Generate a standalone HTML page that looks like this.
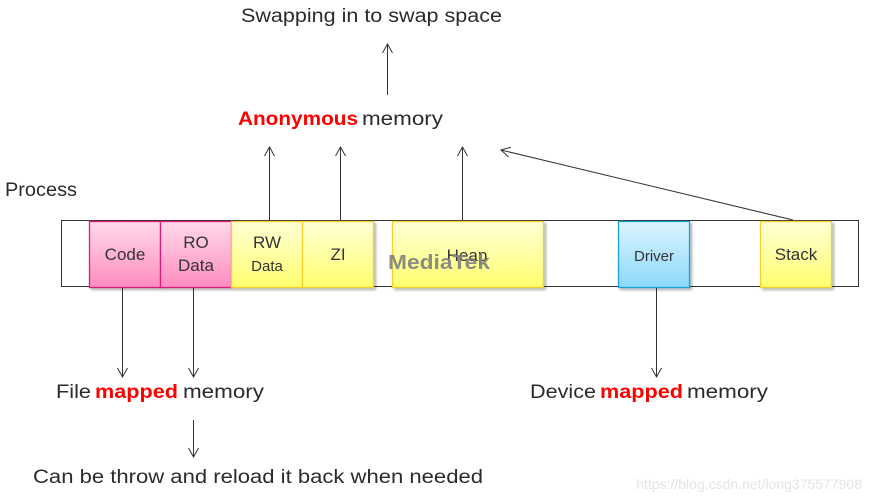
<!DOCTYPE html>
<html><head><style>body{margin:0;background:#fff}svg{display:block}text{font-family:"Liberation Sans",sans-serif}</style></head>
<body>
<svg width="870" height="502" viewBox="0 0 870 502" xmlns="http://www.w3.org/2000/svg">
<defs>
<linearGradient id="pk" x1="0" y1="0" x2="0" y2="1"><stop offset="0" stop-color="#ffd9ea"/><stop offset="1" stop-color="#ff8cc0"/></linearGradient>
<linearGradient id="yl" x1="0" y1="0" x2="0" y2="1"><stop offset="0" stop-color="#ffffd6"/><stop offset="1" stop-color="#ffff70"/></linearGradient>
<linearGradient id="bl" x1="0" y1="0" x2="0" y2="1"><stop offset="0" stop-color="#dcf4ff"/><stop offset="1" stop-color="#8cd8fa"/></linearGradient>
<filter id="sh" x="-10%" y="-10%" width="130%" height="130%"><feDropShadow dx="2" dy="2" stdDeviation="1.2" flood-color="#000" flood-opacity="0.3"/></filter>
<marker id="a" markerWidth="12" markerHeight="12" refX="10" refY="6" orient="auto" markerUnits="userSpaceOnUse"><path d="M1,1 L10,6 L1,11" fill="none" stroke="#333" stroke-width="1"/></marker>
</defs>
<g fill="#2b2b2b" font-size="19">
<text x="241" y="22" textLength="261" lengthAdjust="spacingAndGlyphs">Swapping in to swap space</text>
<text x="238" y="125" textLength="120" lengthAdjust="spacingAndGlyphs" fill="#ff0000" font-weight="bold">Anonymous</text>
<text x="362" y="125" textLength="81" lengthAdjust="spacingAndGlyphs">memory</text>
<text x="5" y="196" textLength="72" lengthAdjust="spacingAndGlyphs">Process</text>
<text x="56" y="398" textLength="35" lengthAdjust="spacingAndGlyphs">File</text>
<text x="95" y="398" textLength="83" lengthAdjust="spacingAndGlyphs" fill="#ff0000" font-weight="bold">mapped</text>
<text x="183" y="398" textLength="81" lengthAdjust="spacingAndGlyphs">memory</text>
<text x="530" y="398" textLength="66" lengthAdjust="spacingAndGlyphs">Device</text>
<text x="600" y="398" textLength="83" lengthAdjust="spacingAndGlyphs" fill="#ff0000" font-weight="bold">mapped</text>
<text x="687" y="398" textLength="81" lengthAdjust="spacingAndGlyphs">memory</text>
<text x="33" y="483" textLength="450" lengthAdjust="spacingAndGlyphs">Can be throw and reload it back when needed</text>
</g>
<rect x="61.5" y="220.5" width="797" height="66" fill="none" stroke="#333"/>
<g stroke="#333" stroke-width="1" marker-end="url(#a)">
<line x1="387.5" y1="95" x2="387.5" y2="44"/>
<line x1="269.5" y1="220" x2="269.5" y2="147"/>
<line x1="340.5" y1="220" x2="340.5" y2="147"/>
<line x1="462.5" y1="220" x2="462.5" y2="147"/>
<line x1="793" y1="220" x2="501" y2="150"/>
<line x1="122.5" y1="287" x2="122.5" y2="377"/>
<line x1="193.5" y1="287" x2="193.5" y2="377"/>
<line x1="656.5" y1="287" x2="656.5" y2="377"/>
<line x1="193.5" y1="420" x2="193.5" y2="457"/>
</g>
<g stroke-width="1.3" filter="url(#sh)">
<rect x="89.5" y="221.5" width="71" height="66" fill="url(#pk)" stroke="#d81b7a"/>
<rect x="160.5" y="221.5" width="71" height="66" fill="url(#pk)" stroke="#d81b7a"/>
<rect x="231.5" y="221.5" width="71" height="66" fill="url(#yl)" stroke="#f5cf2a"/>
<rect x="302.5" y="221.5" width="71" height="66" fill="url(#yl)" stroke="#f5cf2a"/>
<rect x="392.5" y="221.5" width="151" height="66" fill="url(#yl)" stroke="#f5cf2a"/>
<rect x="618.5" y="221.5" width="71" height="66" fill="url(#bl)" stroke="#1ca0d8"/>
<rect x="760.5" y="221.5" width="71" height="66" fill="url(#yl)" stroke="#f5cf2a"/>
</g>
<g fill="#333" font-size="17" text-anchor="middle">
<text x="125" y="260">Code</text>
<text x="196" y="248">RO</text>
<text x="196" y="271">Data</text>
<text x="267" y="248">RW</text>
<text x="267" y="271" font-size="15">Data</text>
<text x="338" y="260">ZI</text>
<text x="467" y="261">Heap</text>
<text x="654" y="261" font-size="15">Driver</text>
<text x="796" y="260">Stack</text>
</g>
<text x="388" y="269" font-size="20" font-weight="bold" fill="#808080" fill-opacity="0.9" textLength="102" lengthAdjust="spacingAndGlyphs">MediaTek</text>
<text x="862" y="489" font-size="14" fill="#e4e4e4" text-anchor="end">https://blog.csdn.net/long375577908</text>
</svg>
</body></html>
